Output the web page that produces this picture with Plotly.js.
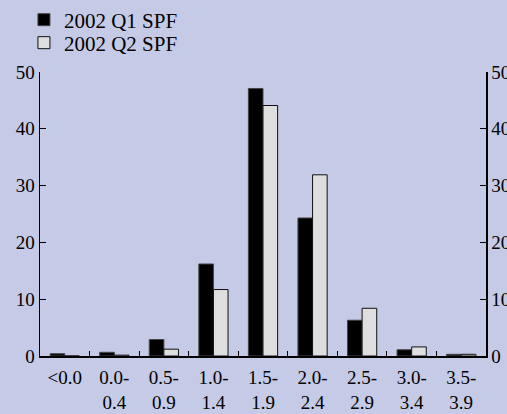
<!DOCTYPE html>
<html><head><meta charset="utf-8">
<script src="https://cdn.plot.ly/plotly-3.0.1.min.js"></script>
<style>html,body{margin:0;padding:0;background:#c5cae6;}#chart{width:507px;height:414px;}</style>
</head><body><div id="chart"></div>
<script>
var categories = ["<0.0", "0.0-<br>0.4", "0.5-<br>0.9", "1.0-<br>1.4", "1.5-<br>1.9", "2.0-<br>2.4", "2.5-<br>2.9", "3.0-<br>3.4", "3.5-<br>3.9"];
var q1Values = [0.4, 0.65, 2.9, 16.2, 47.1, 24.3, 6.3, 1.1, 0.3];
var q2Values = [0, 0.15, 1.2, 11.7, 44.1, 31.9, 8.4, 1.6, 0.3];
var yTicks = [0, 10, 20, 30, 40, 50];
var seriesNames = ["2002 Q1 SPF", "2002 Q2 SPF"];

var font = {family: "Liberation Serif", size: 19, color: "#000"};
var legendFont = {family: "Liberation Serif", size: 21, color: "#000"};
var bg = "#c5cae6";

var data = [
  {type: "bar", name: seriesNames[0], x: categories, y: q1Values, legend: "legend",
   marker: {color: "#000000", line: {color: "#444", width: 1}}, hoverinfo: "skip"},
  {type: "bar", name: seriesNames[1], x: categories, y: q2Values, legend: "legend2",
   marker: {color: "#dedede", line: {color: "#111", width: 1}}, hoverinfo: "skip"},
  {type: "bar", x: categories, y: categories.map(function(){return null;}), yaxis: "y2",
   showlegend: false, hoverinfo: "skip"}
];

var axisCommon = {range: [0, 50], tickvals: yTicks, ticks: "inside", ticklen: 6, tickwidth: 1,
  tickcolor: "#000", showline: true, linecolor: "#000", linewidth: 1.5, showgrid: false,
  zeroline: false, tickfont: font, fixedrange: true};

var legendCommon = {x: -0.036, xanchor: "left", yanchor: "middle", bgcolor: "rgba(0,0,0,0)",
  font: legendFont, itemwidth: 30};

var layout = {
  width: 507, height: 414,
  paper_bgcolor: bg, plot_bgcolor: bg,
  margin: {l: 40, r: 21, t: 72, b: 58, autoexpand: false},
  font: font,
  barmode: "group", bargap: 0.41, bargroupgap: 0,
  showlegend: true,
  legend: Object.assign({}, legendCommon, {y: 1.183}),
  legend2: Object.assign({}, legendCommon, {y: 1.102}),
  xaxis: {type: "category", tickson: "boundaries", ticks: "inside", ticklen: 5, tickwidth: 1,
    tickcolor: "#000", showline: true, linecolor: "#000", linewidth: 1.5, showgrid: false,
    tickfont: font, fixedrange: true, tickangle: 0, ticklabelstandoff: 4},
  yaxis: Object.assign({}, axisCommon, {side: "left"}),
  yaxis2: Object.assign({}, axisCommon, {side: "right", overlaying: "y", anchor: "x"})
};

Plotly.newPlot("chart", data, layout, {staticPlot: true, displayModeBar: false});
</script></body></html>
